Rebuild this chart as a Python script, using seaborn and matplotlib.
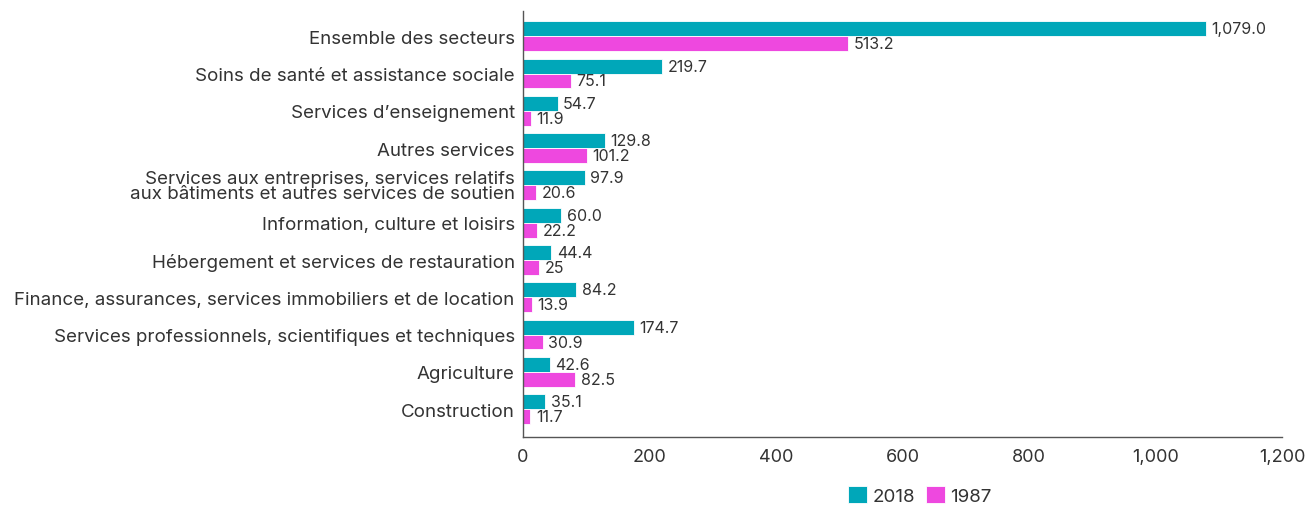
import matplotlib
matplotlib.use("Agg")
import matplotlib.pyplot as plt
import seaborn as sns
import pandas as pd

sectors = [
    "Ensemble des secteurs",
    "Soins de santé et assistance sociale",
    "Services d\u2019enseignement",
    "Autres services",
    "Services aux entreprises, services relatifs\naux bâtiments et autres services de soutien",
    "Information, culture et loisirs",
    "Hébergement et services de restauration",
    "Finance, assurances, services immobiliers et de location",
    "Services professionnels, scientifiques et techniques",
    "Agriculture",
    "Construction",
]
values_2018 = [1079.0, 219.7, 54.7, 129.8, 97.9, 60.0, 44.4, 84.2, 174.7, 42.6, 35.1]
values_1987 = [513.2, 75.1, 11.9, 101.2, 20.6, 22.2, 25, 13.9, 30.9, 82.5, 11.7]
labels_2018 = ["1,079.0", "219.7", "54.7", "129.8", "97.9", "60.0", "44.4", "84.2", "174.7", "42.6", "35.1"]
labels_1987 = ["513.2", "75.1", "11.9", "101.2", "20.6", "22.2", "25", "13.9", "30.9", "82.5", "11.7"]
years = ["2018", "1987"]
colors = {"2018": "#00A7B9", "1987": "#EE48DF"}

df = pd.DataFrame({
    "secteur": sectors * 2,
    "valeur": values_2018 + values_1987,
    "annee": [years[0]] * len(sectors) + [years[1]] * len(sectors),
})

sns.set_theme(style="white")
plt.rcParams["font.family"] = ["Inter", "DejaVu Sans"]
text_color = "#333333"

fig = plt.figure(figsize=(13.14, 5.10), dpi=100)
ax = fig.add_axes([0.398, 0.141, 0.578, 0.835])

sns.barplot(data=df, x="valeur", y="secteur", hue="annee", hue_order=years,
            order=sectors, palette=colors, orient="h", width=0.8,
            saturation=1, ax=ax, legend=True, edgecolor="white", linewidth=0.6)

for container, labels in zip(ax.containers, [labels_2018, labels_1987]):
    ax.bar_label(container, labels=labels, padding=4, fontsize=11.5,
                 color=text_color)

ax.set_xlim(0, 1200)
ax.set_ylim(10.75, -0.67)
ax.set_xticks([0, 200, 400, 600, 800, 1000, 1200])
ax.set_xticklabels(["0", "200", "400", "600", "800", "1,000", "1,200"])
ax.set_xlabel("")
ax.set_ylabel("")
ax.tick_params(axis="x", labelsize=13, colors=text_color, length=0, pad=8)
ax.tick_params(axis="y", labelsize=13.5, colors=text_color, length=0, pad=6)
for lbl in ax.get_yticklabels():
    lbl.set_linespacing(0.8)

for side in ["top", "right"]:
    ax.spines[side].set_visible(False)
for side in ["left", "bottom"]:
    ax.spines[side].set_color("#555555")
    ax.spines[side].set_linewidth(1.0)

handles, labels = ax.get_legend_handles_labels()
ax.get_legend().remove()
fig.legend(handles, labels, loc="lower center", bbox_to_anchor=(0.70, -0.006),
           ncol=2, frameon=False, fontsize=13.5, handlelength=1.0,
           handleheight=1.0, handletextpad=0.3, columnspacing=0.6,
           labelcolor=text_color, borderaxespad=0.0)

fig.savefig("out.png", dpi=100)
